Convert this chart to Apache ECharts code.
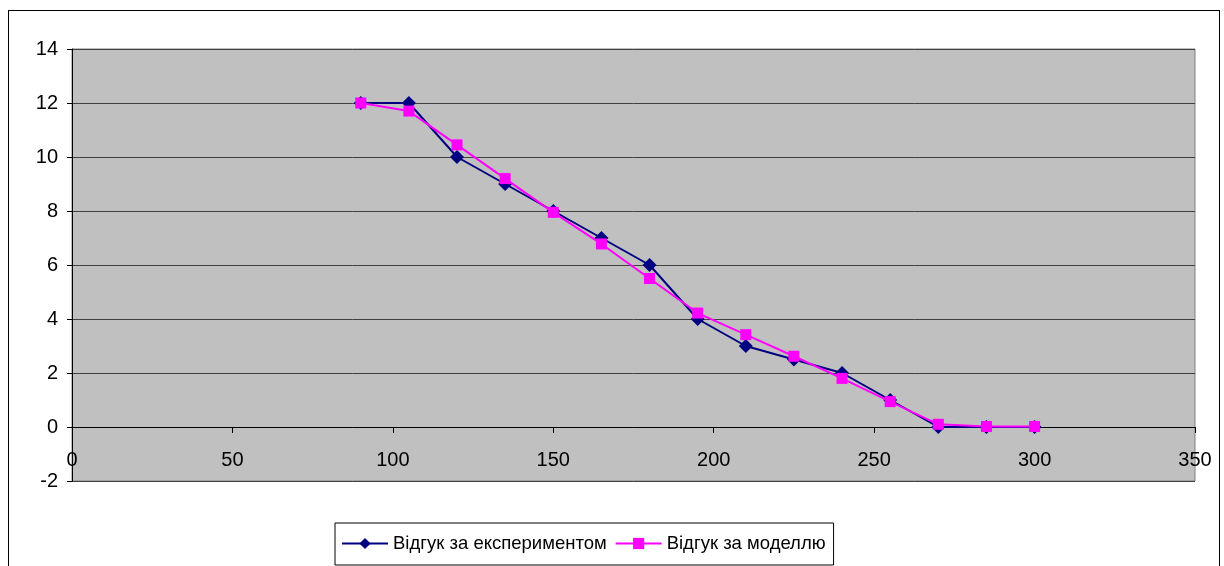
<!DOCTYPE html>
<html>
<head>
<meta charset="utf-8">
<script src="https://cdn.jsdelivr.net/npm/echarts@6/dist/echarts.min.js"></script>
<style>
html,body{margin:0;padding:0;background:#fff;}
#wrap{position:relative;width:1224px;height:566px;overflow:hidden;}
#frame{position:absolute;left:8px;top:10px;width:1212px;height:570px;border:1px solid #000;box-sizing:border-box;}
#chart{position:absolute;left:0;top:0;width:1224px;height:566px;}
</style>
</head>
<body>
<div id="wrap"><div id="frame"></div><div id="chart"></div></div>
<script>
const xValues = [90, 105, 120, 135, 150, 165, 180, 195, 210, 225, 240, 255, 270, 285, 300];
const experimentValues = [12, 12, 10, 9, 8, 7, 6, 4, 3, 2.5, 2, 1, 0, 0, 0];
const modelValues = [12.0, 11.7, 10.45, 9.2, 7.95, 6.78, 5.5, 4.22, 3.42, 2.62, 1.8, 0.94, 0.1, 0.02, 0.02];
const seriesNames = ['Відгук за експериментом', 'Відгук за моделлю'];

const chart = echarts.init(document.getElementById('chart'));
const font = 'Liberation Sans, Arial, sans-serif';
chart.setOption({
  animation: false,
  backgroundColor: 'transparent',
  grid: {
    left: 72, right: 29, top: 49, bottom: 85,
    show: true, backgroundColor: '#C0C0C0', borderColor: '#808080', borderWidth: 1
  },
  xAxis: {
    type: 'value', min: 0, max: 350, interval: 50,
    axisLine: { show: true, onZero: true, lineStyle: { color: '#000', width: 1 } },
    axisTick: { show: true, length: 6, lineStyle: { color: '#000' } },
    axisLabel: { color: '#000', fontSize: 20, fontFamily: font, margin: -31 },
    splitLine: { show: false }
  },
  yAxis: {
    type: 'value', min: -2, max: 14, interval: 2,
    axisLine: { show: true, onZero: false, lineStyle: { color: '#000', width: 1 } },
    axisTick: { show: true, length: 5, lineStyle: { color: '#000' } },
    axisLabel: { color: '#000', fontSize: 20, fontFamily: font, margin: 14 },
    splitLine: { show: true, lineStyle: { color: '#404040', width: 1 } }
  },
  legend: {
    left: 335, top: 523, width: 520,
    data: seriesNames,
    borderColor: '#000', borderWidth: 1, borderRadius: 0,
    padding: [11, 8, 12, 6],
    itemGap: 8, itemWidth: 46, itemHeight: 14,
    textStyle: { color: '#000', fontSize: 18.5, fontFamily: font, padding: [0, 0, 0, 0] }
  },
  series: [
    {
      name: seriesNames[0], type: 'line',
      data: xValues.map((x, i) => [x, experimentValues[i]]),
      symbol: 'diamond', symbolSize: 14,
      lineStyle: { color: '#000080', width: 2 },
      itemStyle: { color: '#000080' },
      z: 2
    },
    {
      name: seriesNames[1], type: 'line',
      data: xValues.map((x, i) => [x, modelValues[i]]),
      symbol: 'rect', symbolSize: 11,
      lineStyle: { color: '#FF00FF', width: 2 },
      itemStyle: { color: '#FF00FF' },
      z: 3
    }
  ]
});
</script>
</body>
</html>
